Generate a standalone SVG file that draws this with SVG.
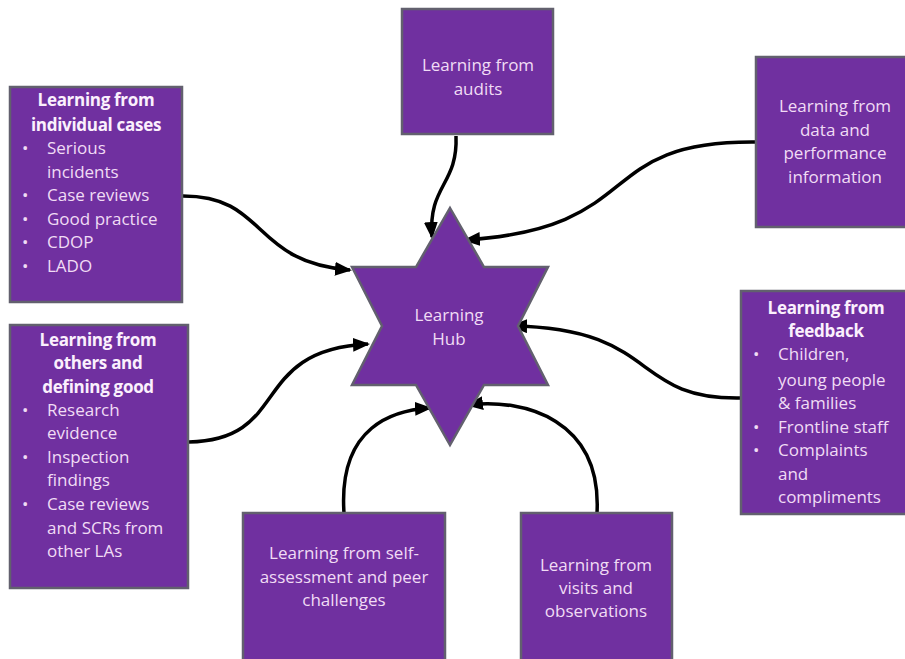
<svg xmlns="http://www.w3.org/2000/svg" width="905" height="659" viewBox="0 0 905 659">
<defs>
<style>
.box{fill:#7030a0;stroke:#62606e;stroke-width:2.5}
.t{font-family:"Open Sans","Liberation Sans",Arial,sans-serif;font-size:17px;fill:#f0dcf5}
.c{text-anchor:middle}
.b{font-weight:bold;fill:#fbf0fd;letter-spacing:-0.3px}
.conn{fill:none;stroke:#000;stroke-width:3.5}
</style>
<marker id="ah" markerWidth="17" markerHeight="14" refX="15" refY="7" orient="auto" markerUnits="userSpaceOnUse">
<path d="M0,0 L17,7 L0,14 Z" fill="#000"/>
</marker>
</defs>
<rect width="905" height="659" fill="#fff"/>
<g id="connectors">
<path class="conn" d="M183,196 C268,196 250,262 350,270" marker-end="url(#ah)"/>
<path class="conn" d="M189,442 C292,440 248,350 368,344" marker-end="url(#ah)"/>
<path class="conn" d="M456,136 C458,185 428,185 432,237" marker-end="url(#ah)"/>
<path class="conn" d="M757,142 C590,140 650,228 465,240" marker-end="url(#ah)"/>
<path class="conn" d="M741,398 C630,400 660,328 512,326" marker-end="url(#ah)"/>
<path class="conn" d="M344,513 C338,425 395,410 430,408" marker-end="url(#ah)"/>
<path class="conn" d="M597,513 C602,420 525,398 468,405" marker-end="url(#ah)"/>
</g>
<g id="hub">
<polygon class="box" points="450,208 484,267 548,267 518,326 548,385 484,385 450,445 416,385 352,385 382,326 352,267 416,267"/>
<text class="t c" x="449" y="321">Learning</text>
<text class="t c" x="449" y="345">Hub</text>
</g>
<g id="individual-cases">
<rect class="box" x="10" y="87" width="172" height="215"/>
<text class="t c b" x="96" y="106">Learning from</text>
<text class="t c b" x="96" y="131">individual cases</text>
<text class="t" x="22" y="154">•</text><text class="t" x="47" y="154">Serious</text>
<text class="t" x="47" y="178">incidents</text>
<text class="t" x="22" y="201">•</text><text class="t" x="47" y="201">Case reviews</text>
<text class="t" x="22" y="225">•</text><text class="t" x="47" y="225">Good practice</text>
<text class="t" x="22" y="248">•</text><text class="t" x="47" y="248">CDOP</text>
<text class="t" x="22" y="272">•</text><text class="t" x="47" y="272">LADO</text>
</g>
<g id="others">
<rect class="box" x="10" y="325" width="178" height="263"/>
<text class="t c b" x="98" y="346">Learning from</text>
<text class="t c b" x="98" y="369">others and</text>
<text class="t c b" x="98" y="393">defining good</text>
<text class="t" x="22" y="416">•</text><text class="t" x="47" y="416">Research</text>
<text class="t" x="47" y="439">evidence</text>
<text class="t" x="22" y="463">•</text><text class="t" x="47" y="463">Inspection</text>
<text class="t" x="47" y="486">findings</text>
<text class="t" x="22" y="510">•</text><text class="t" x="47" y="510">Case reviews</text>
<text class="t" x="47" y="534">and SCRs from</text>
<text class="t" x="47" y="557">other LAs</text>
</g>
<g id="audits">
<rect class="box" x="402" y="9" width="151" height="125"/>
<text class="t c" x="478" y="71">Learning from</text>
<text class="t c" x="478" y="95">audits</text>
</g>
<g id="data">
<rect class="box" x="756" y="57" width="160" height="170"/>
<text class="t c" x="835" y="112">Learning from</text>
<text class="t c" x="835" y="136">data and</text>
<text class="t c" x="835" y="159">performance</text>
<text class="t c" x="835" y="183">information</text>
</g>
<g id="feedback">
<rect class="box" x="741" y="291" width="175" height="223"/>
<text class="t c b" x="826" y="314">Learning from</text>
<text class="t c b" x="826" y="337">feedback</text>
<text class="t" x="753" y="360">•</text><text class="t" x="778" y="360">Children,</text>
<text class="t" x="778" y="386">young people</text>
<text class="t" x="778" y="409">&amp; families</text>
<text class="t" x="753" y="433">•</text><text class="t" x="778" y="433">Frontline staff</text>
<text class="t" x="753" y="456">•</text><text class="t" x="778" y="456">Complaints</text>
<text class="t" x="778" y="480">and</text>
<text class="t" x="778" y="503">compliments</text>
</g>
<g id="self-assessment">
<rect class="box" x="243" y="513" width="202" height="160"/>
<text class="t c" x="344" y="559">Learning from self-</text>
<text class="t c" x="344" y="583">assessment and peer</text>
<text class="t c" x="344" y="606">challenges</text>
</g>
<g id="visits">
<rect class="box" x="521" y="513" width="151" height="160"/>
<text class="t c" x="596" y="571">Learning from</text>
<text class="t c" x="596" y="594">visits and</text>
<text class="t c" x="596" y="617">observations</text>
</g>
</svg>
